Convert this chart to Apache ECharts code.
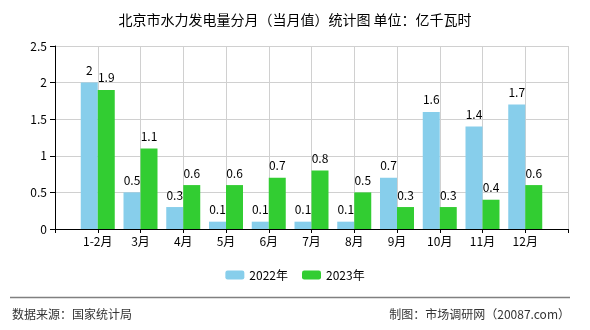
<!DOCTYPE html>
<html><head><meta charset="utf-8">
<script src="https://cdn.jsdelivr.net/npm/echarts@6/dist/echarts.min.js"></script>
<style>html,body{margin:0;padding:0;background:#fff;}#c{width:590px;height:330px;}</style>
</head><body><div id="c"></div>
<script>
var categories = ['', '1-2月', '3月', '4月', '5月', '6月', '7月', '8月', '9月', '10月', '11月', '12月', ''];
var values2022 = [null, 2, 0.5, 0.3, 0.1, 0.1, 0.1, 0.1, 0.7, 1.6, 1.4, 1.7, null];
var values2023 = [null, 1.9, 1.1, 0.6, 0.6, 0.7, 0.8, 0.5, 0.3, 0.3, 0.4, 0.6, null];
var yTicks = [0, 0.5, 1, 1.5, 2, 2.5];

var chart = echarts.init(document.getElementById('c'), null, {renderer: 'canvas'});
var F = '"Noto Sans CJK SC", "DejaVu Sans", sans-serif';
var lbl = {show: true, position: 'top', distance: 6, color: '#000', fontSize: 12, fontFamily: F};
chart.setOption({
  animation: false,
  backgroundColor: '#fff',
  title: {text: '北京市水力发电量分月（当月值）统计图 单位：亿千瓦时', left: 'center', top: 8,
    textStyle: {fontSize: 14, fontWeight: 'normal', color: '#000', fontFamily: F}},
  legend: {bottom: 44, left: 'center', itemWidth: 19, itemHeight: 9, itemGap: 14,
    textStyle: {fontSize: 12, color: '#000', fontFamily: F}, data: ['2022年', '2023年']},
  grid: {left: 55, right: 22, top: 46, bottom: 101, containLabel: false},
  xAxis: {type: 'category', data: categories, boundaryGap: false,
    axisLine: {lineStyle: {color: '#000'}},
    axisTick: {show: true, length: 4, interval: 0, lineStyle: {color: '#000'}},
    axisLabel: {interval: 0, color: '#000', fontSize: 12, fontFamily: F, margin: 6},
    splitLine: {show: true, interval: 0, lineStyle: {color: '#d0d0d0'}}},
  yAxis: {type: 'value', min: yTicks[0], max: yTicks[yTicks.length - 1], interval: 0.5,
    axisLine: {show: true, lineStyle: {color: '#000'}},
    axisTick: {show: true, length: 5, lineStyle: {color: '#000'}},
    axisLabel: {color: '#000', fontSize: 12, fontFamily: F, margin: 8},
    splitLine: {show: true, lineStyle: {color: '#d0d0d0'}}},
  series: [
    {name: '2022年', type: 'bar', data: values2022, barWidth: 17, barGap: '0%',
      itemStyle: {color: '#87CEEB'}, label: lbl},
    {name: '2023年', type: 'bar', data: values2023, barWidth: 17, barGap: '0%',
      itemStyle: {color: '#32CD32'}, label: lbl}
  ],
  graphic: [
    {type: 'line', shape: {x1: 10, y1: 297.5, x2: 570, y2: 297.5}, style: {stroke: '#808080', lineWidth: 1.5}},
    {type: 'text', left: 12, top: 308, style: {text: '数据来源：国家统计局', fill: '#333', fontSize: 12, fontFamily: F}},
    {type: 'text', right: 20, top: 308, style: {text: '制图：市场调研网（20087.com）', fill: '#333', fontSize: 12, fontFamily: F}}
  ]
});
</script></body></html>
